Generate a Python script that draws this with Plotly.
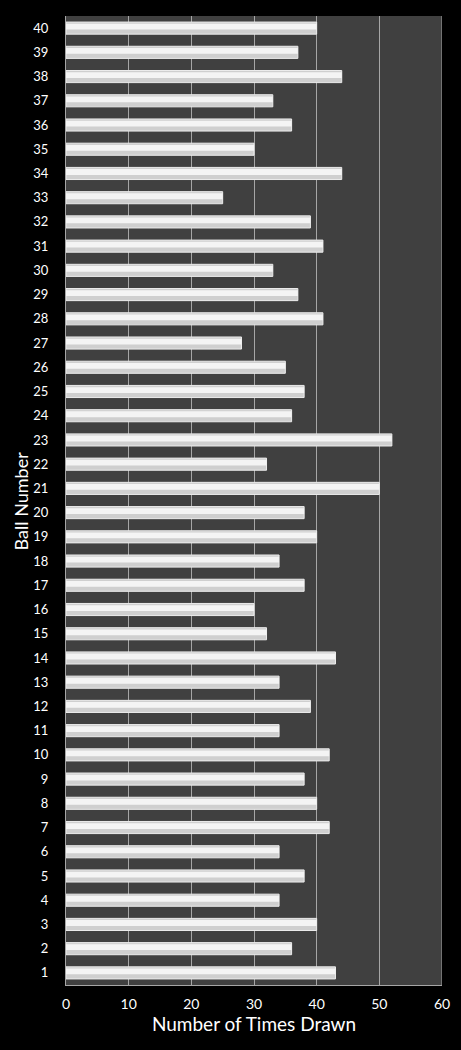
import plotly.graph_objects as go

balls = list(range(1, 41))
times_drawn = [43, 36, 40, 34, 38, 34, 42, 40, 38, 42,
               34, 39, 34, 43, 32, 30, 38, 34, 40, 38,
               50, 32, 52, 36, 38, 35, 28, 41, 37, 33,
               41, 39, 25, 44, 30, 36, 33, 44, 37, 40]
x_ticks = [0, 10, 20, 30, 40, 50, 60]

FONT = "Lato, 'Open Sans', sans-serif"

fig = go.Figure()
fig.add_trace(go.Bar(
    x=times_drawn, y=balls, orientation="h",
    marker=dict(color="#cfcfcf", line=dict(color="#ececec", width=1)),
    width=0.5, hoverinfo="x+y",
))
# highlight strip for a glossy look
fig.add_trace(go.Bar(
    x=times_drawn, y=balls, orientation="h",
    marker=dict(color="#f4f4f4", line=dict(width=0)),
    width=0.24, offset=-0.06, hoverinfo="skip",
))

fig.update_layout(
    width=461, height=1050,
    paper_bgcolor="black", plot_bgcolor="#404040",
    barmode="overlay", showlegend=False,
    margin=dict(l=66, r=19, t=16, b=65),
    font=dict(family=FONT, color="white", size=13),
    xaxis=dict(
        range=[0, 60], tickvals=x_ticks, ticktext=[str(v) for v in x_ticks],
        showgrid=True, gridcolor="#a6a6a6", gridwidth=1,
        showline=True, linecolor="#a6a6a6", linewidth=1,
        zeroline=False, ticks="", ticklabelstandoff=6,
        tickfont=dict(size=14, color="white"),
        title=dict(text="Number of Times Drawn", font=dict(size=19, color="white"), standoff=6),
    ),
    yaxis=dict(
        range=[0.5, 40.5], tickmode="array", tickvals=balls,
        ticktext=[str(b) for b in balls],
        showgrid=False, showline=True, linecolor="#a6a6a6", linewidth=1,
        zeroline=False, ticks="", ticklabelstandoff=14,
        tickfont=dict(size=13, color="white"),
    ),
    annotations=[dict(
        text="Ball Number", textangle=-90, showarrow=False,
        xref="paper", yref="paper", x=-0.12, y=0.5,
        xanchor="center", yanchor="middle",
        font=dict(size=18, color="white", family=FONT),
    )],
)
# right border at 60
fig.add_shape(type="line", xref="x", yref="paper", x0=60, x1=60, y0=0, y1=1,
              line=dict(color="#a6a6a6", width=1))

fig.write_html(
    "out.html",
    config={"displayModeBar": False},
    post_script="document.body.style.margin='0';document.body.style.background='black';"
                "window.dispatchEvent(new Event('resize'));",
)
